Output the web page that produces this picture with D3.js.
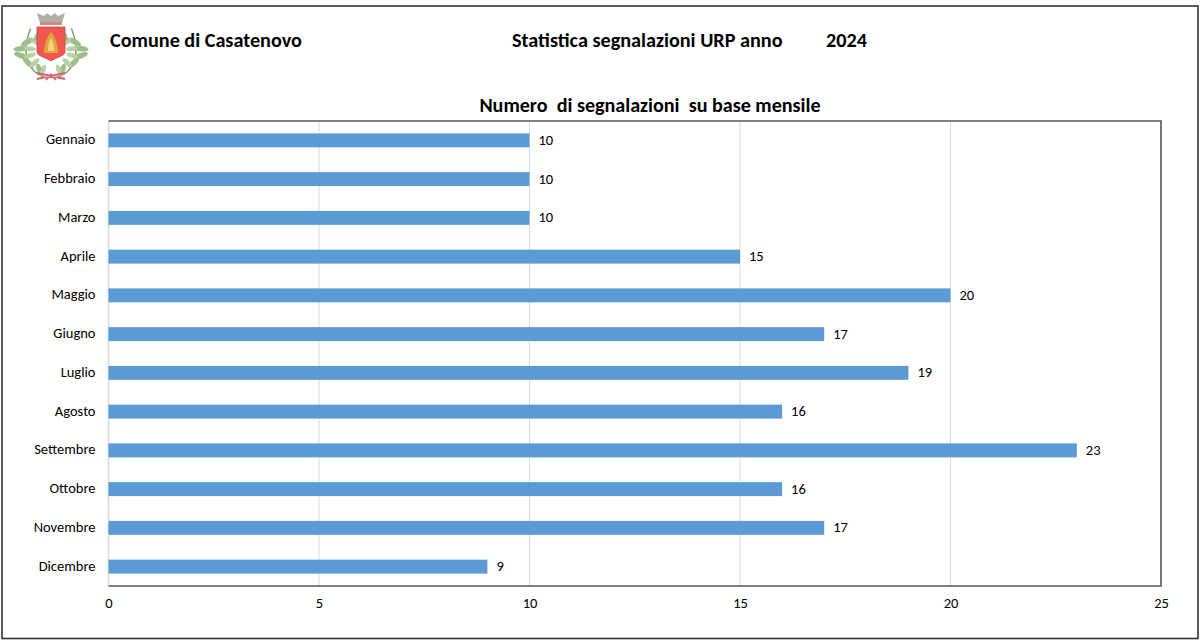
<!DOCTYPE html>
<html>
<head>
<meta charset="utf-8">
<script src="https://cdn.jsdelivr.net/npm/d3@7"></script>
<style>
body { margin: 0; background: #fff; }
text { font-family: Carlito, Lato, "Open Sans", sans-serif; fill: #000; }
</style>
</head>
<body>
<svg id="chart" width="1203" height="643"></svg>
<script>
const months = ['Gennaio', 'Febbraio', 'Marzo', 'Aprile', 'Maggio', 'Giugno', 'Luglio', 'Agosto', 'Settembre', 'Ottobre', 'Novembre', 'Dicembre'];
const counts = [10, 10, 10, 15, 20, 17, 19, 16, 23, 16, 17, 9];
const xTicks = [0, 5, 10, 15, 20, 25];

const svg = d3.select('#chart');
const plot = { left: 108.5, right: 1161, top: 121, bottom: 586 };

svg.append('rect').attr('x', 2).attr('y', 6).attr('width', 1196).attr('height', 632.5)
    .attr('fill', '#fff').attr('stroke', '#333').attr('stroke-width', 1.6);

const x = d3.scaleLinear().domain([0, 25]).range([plot.left, plot.right]);
const y = d3.scaleBand().domain(months).range([plot.top, plot.bottom]).paddingInner(0.64).paddingOuter(0.32);

// griglia (anche la linea dello zero, che e' chiara)
svg.append('g').selectAll('line').data(xTicks.slice(0, -1)).enter().append('line')
    .attr('x1', d => x(d)).attr('x2', d => x(d))
    .attr('y1', plot.top).attr('y2', plot.bottom)
    .attr('stroke', '#d9d9d9').attr('stroke-width', d => d === 0 ? 1.5 : 1);

svg.append('g').selectAll('rect').data(counts).enter().append('rect')
    .attr('x', x(0))
    .attr('y', (d, i) => y(months[i]))
    .attr('width', d => x(d) - x(0))
    .attr('height', y.bandwidth())
    .attr('fill', '#5b9bd5');

svg.append('path')
    .attr('d', `M${plot.left},${plot.top}H${plot.right}V${plot.bottom}H${plot.left}`)
    .attr('fill', 'none').attr('stroke', '#555').attr('stroke-width', 1.6);

svg.append('g').selectAll('text').data(counts).enter().append('text')
    .attr('x', d => x(d) + 9)
    .attr('y', (d, i) => y(months[i]) + y.bandwidth() / 2 + 1)
    .attr('dominant-baseline', 'middle')
    .attr('font-size', 14.5)
    .text(d => d);

const xAxis = svg.append('g').attr('transform', `translate(0,${plot.bottom})`)
    .call(d3.axisBottom(x).tickValues(xTicks).tickSize(0).tickPadding(12));
xAxis.select('.domain').remove();
xAxis.attr('font-family', null);
xAxis.selectAll('text').attr('font-size', 14.5);

const yAxis = svg.append('g').attr('transform', `translate(${plot.left},0)`)
    .call(d3.axisLeft(y).tickSize(0).tickPadding(13));
yAxis.select('.domain').remove();
yAxis.attr('font-family', null);
yAxis.selectAll('text').attr('font-size', 14.5).attr('dy', '0.27em');

// intestazione
const headers = [
    { label: 'Comune di Casatenovo', px: 110 },
    { label: 'Statistica segnalazioni URP anno', px: 512 },
    { label: '2024', px: 826 }
];
svg.append('g').selectAll('text').data(headers).enter().append('text')
    .attr('x', d => d.px).attr('y', 47)
    .attr('font-size', 20.2).attr('font-weight', 'bold')
    .text(d => d.label);

svg.append('text').attr('x', 650).attr('y', 112).attr('text-anchor', 'middle')
    .attr('font-size', 20.1).attr('font-weight', 'bold')
    .style('white-space', 'pre')
    .text('Numero  di segnalazioni  su base mensile');

// stemma
const crest = svg.append('g').attr('transform', 'translate(51,47)');
const leafAngles = [-70, -45, -20, 5, 30, 55];
[-1, 1].forEach(side => {
    const wreath = crest.append('g').attr('transform', `scale(${side * 1.2},1.15)`);
    wreath.append('path').attr('d', 'M2,27 C18,24 26,8 17,-16')
        .attr('fill', 'none').attr('stroke', '#7d9a6c').attr('stroke-width', 1.2);
    leafAngles.forEach((a, i) => {
        const t = i / (leafAngles.length - 1);
        const py = 24 - t * 38;
        const px = 8 + Math.sin(t * Math.PI) * 14;
        wreath.append('ellipse')
            .attr('cx', px + 4).attr('cy', py).attr('rx', 6).attr('ry', 2.4)
            .attr('transform', `rotate(${a} ${px} ${py})`)
            .attr('fill', '#9cbf8a');
        wreath.append('ellipse')
            .attr('cx', px - 4).attr('cy', py).attr('rx', 5).attr('ry', 2.1)
            .attr('transform', `rotate(${-a} ${px} ${py})`)
            .attr('fill', '#b7d2a6');
    });
});
crest.append('path').attr('d', 'M-14,-20 H14 V5 C14,9 6,10 0,14 C-6,10 -14,9 -14,5 Z')
    .attr('fill', '#f0584f').attr('stroke', '#c9453e').attr('stroke-width', 0.8);
crest.append('path').attr('d', 'M-7,6 C-7,-5 -2,-13 0,-15 C2,-13 7,-5 7,6 Z').attr('fill', '#e0a53f');
crest.append('path').attr('d', 'M-3,4 C-3,-3 -1,-7 0,-9 C1,-7 3,-3 3,4 Z').attr('fill', '#f3d27c');
crest.append('path').attr('d', 'M-11,-24 L-14,-34 L-7,-31 L-4,-34 L0,-31 L4,-34 L7,-31 L14,-34 L11,-24 Z')
    .attr('fill', '#b5aea6');
crest.append('rect').attr('x', -11).attr('y', -25).attr('width', 22).attr('height', 3).attr('fill', '#c98a86');
crest.append('path').attr('d', 'M-14,26 L14,32 M14,26 L-14,32 M0,27 L-5,33 M0,27 L5,33')
    .attr('stroke', '#d9606a').attr('stroke-width', 1.8).attr('fill', 'none');
</script>
</body>
</html>
